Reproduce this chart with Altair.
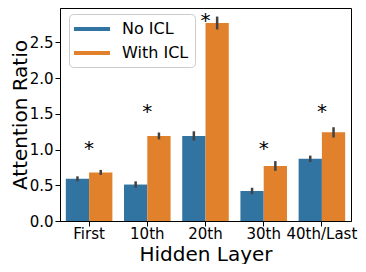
import altair as alt
import pandas as pd

layers = ["First", "10th", "20th", "30th", "40th/Last"]
groups = ["No ICL", "With ICL"]
no_icl = [0.59, 0.51, 1.19, 0.42, 0.87]
with_icl = [0.68, 1.19, 2.77, 0.77, 1.24]
err_no = [0.035, 0.045, 0.065, 0.045, 0.045]
err_icl = [0.035, 0.048, 0.09, 0.068, 0.072]
star_y = [1.04, 1.55, 2.83, 1.03, 1.55]
colors = ["#3274a1", "#e1812c"]

rows = []
for i, l in enumerate(layers):
    rows.append({"layer": l, "group": groups[0], "value": no_icl[i],
                 "lo": no_icl[i] - err_no[i], "hi": no_icl[i] + err_no[i]})
    rows.append({"layer": l, "group": groups[1], "value": with_icl[i],
                 "lo": with_icl[i] - err_icl[i], "hi": with_icl[i] + err_icl[i]})
df = pd.DataFrame(rows)
stars = pd.DataFrame({"layer": layers, "star": star_y, "t": ["*"] * len(layers)})

xenc = alt.X("layer:N", sort=layers,
             scale=alt.Scale(paddingInner=0.2, paddingOuter=0.1),
             axis=alt.Axis(title="Hidden Layer", labelAngle=0, labelFontSize=15,
                           labelBaseline="alphabetic", labelPadding=12,
                           titleFontSize=20, titleFontWeight="normal",
                           titleBaseline="alphabetic", titleY=39,
                           tickSize=5, labelColor="black",
                           titleColor="black", domainColor="black", tickColor="black"))
xoff = alt.XOffset("group:N", sort=groups, scale=alt.Scale(paddingInner=0, paddingOuter=0))
yscale = alt.Scale(domain=[0, 2.98], nice=False, zero=True)

bars = alt.Chart(df).mark_bar().encode(
    x=xenc,
    xOffset=xoff,
    y=alt.Y("value:Q", scale=yscale,
            axis=alt.Axis(title="Attention Ratio", values=[0, 0.5, 1.0, 1.5, 2.0, 2.5],
                          format=".1f", labelFontSize=15, titleFontSize=20,
                          titleFontWeight="normal", titleBaseline="alphabetic",
                          titleX=-34, tickSize=5, labelPadding=2, grid=False,
                          labelColor="black", titleColor="black",
                          domainColor="black", tickColor="black")),
    color=alt.Color("group:N", sort=groups,
                    scale=alt.Scale(domain=groups, range=colors),
                    legend=alt.Legend(title=None, orient="none", legendX=9, legendY=6,
                                      fillColor="white", strokeColor="#cccccc",
                                      cornerRadius=4, padding=6, labelFontSize=16,
                                      symbolType="M-2.25,-0.25H2.25V0.25H-2.25Z",
                                      symbolSize=256, symbolOffset=8, rowPadding=7,
                                      labelOffset=21, labelColor="black")),
)

errs = alt.Chart(df).mark_rule(color="#424242", strokeWidth=2.5).encode(
    x=alt.X("layer:N", sort=layers),
    xOffset=alt.XOffset("group:N", sort=groups),
    y=alt.Y("lo:Q", scale=yscale),
    y2="hi:Q",
)

star_text = alt.Chart(stars).mark_text(fontSize=20, baseline="alphabetic", dy=8,
                                       color="black").encode(
    x=alt.X("layer:N", sort=layers),
    y=alt.Y("star:Q", scale=yscale),
    text="t:N",
)

chart = alt.layer(bars, errs, star_text).properties(
    width=291, height=213,
    autosize=alt.AutoSizeParams(type="none"),
    padding={"left": 52, "top": 0, "right": 7, "bottom": 43},
).configure(font="DejaVu Sans").configure_view(stroke="black", strokeWidth=1)

chart.save("out.html", embed_options={"renderer": "svg", "actions": False})
